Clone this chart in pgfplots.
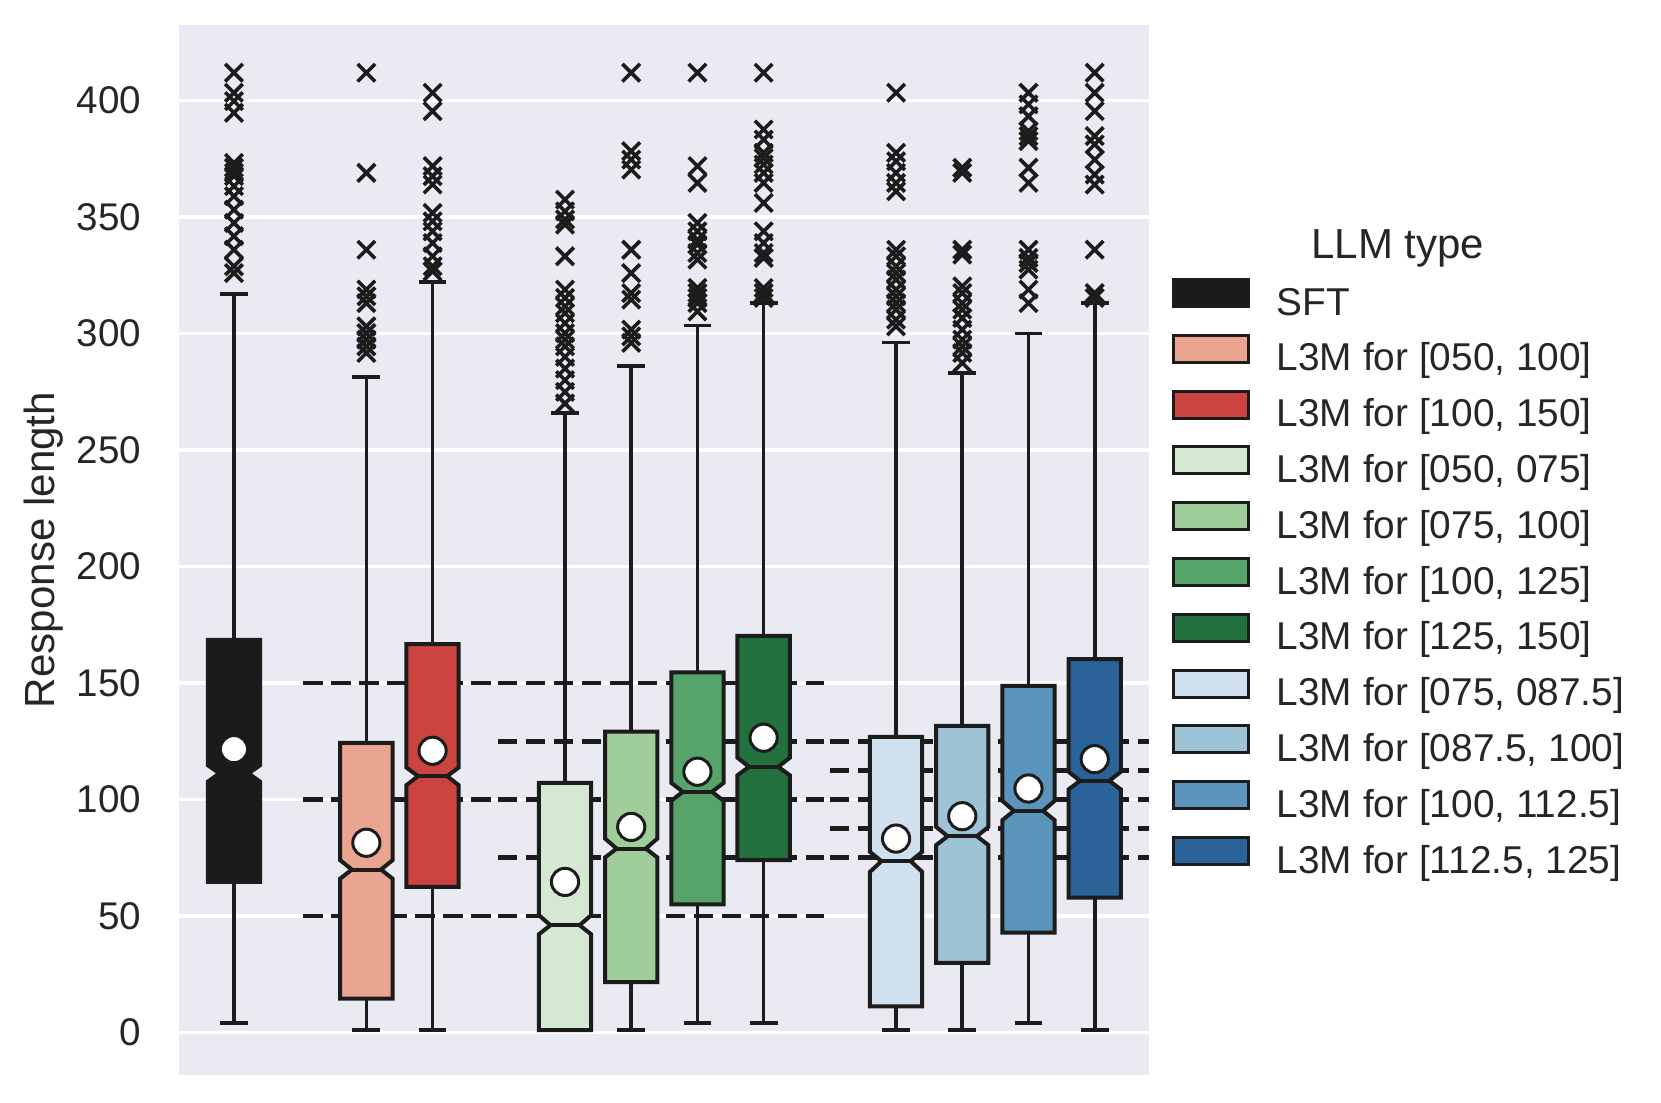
\documentclass[border=0pt]{standalone}
\usepackage{fontspec}
\setmainfont{Liberation Sans}
\usepackage{pgfplots}
\pgfplotsset{compat=1.18}
\definecolor{bg}{HTML}{EAEAF2}
\definecolor{txt}{HTML}{262626}
\definecolor{edge}{HTML}{1C1C1C}
\definecolor{cSFT}{HTML}{1A1A1A}
\definecolor{cRa}{HTML}{EAA590}
\definecolor{cRb}{HTML}{CB443F}
\definecolor{cGa}{HTML}{D5E8D1}
\definecolor{cGb}{HTML}{A0CE9A}
\definecolor{cGc}{HTML}{57A46A}
\definecolor{cGd}{HTML}{22713F}
\definecolor{cBa}{HTML}{D1E0EE}
\definecolor{cBb}{HTML}{9EC2D6}
\definecolor{cBc}{HTML}{5B95BB}
\definecolor{cBd}{HTML}{2A6399}
\begin{document}
\begin{tikzpicture}
\useasboundingbox (0,0) rectangle (415.25pt,275.75pt);
\begin{axis}[
 at={(44.75pt,7pt)}, anchor=south west,
 scale only axis, width=242.5pt, height=262.5pt,
 xmin=-0.83, xmax=13.82, ymin=-18.3, ymax=432.5,
 axis background/.style={fill=bg},
 axis line style={draw=none},
 xtick=\empty,
 ytick={0,50,100,150,200,250,300,350,400},
 major tick length=0pt,
 ymajorgrids, grid style={white, line width=0.85pt},
 /pgf/number format/assume math mode=true,
 yticklabel style={font=\fontsize{9.65}{11}\selectfont, text=txt, inner sep=0pt, xshift=-9.3pt},
 ylabel={Response length},
 every axis y label/.style={at={(axis description cs:-0.1395,0.5)}, rotate=90, anchor=center, font=\fontsize{10.53}{12}\selectfont, text=txt},
 unbounded coords=jump,
 legend style={at={(axis description cs:1.0233,0.7590)}, anchor=north west, draw=none, fill=none, inner sep=0pt, outer sep=0pt, row sep=0pt, font=\fontsize{9.7}{11}\selectfont, text=txt, nodes={inner sep=0pt, text height=8.75pt, text depth=4.7pt}, /tikz/every odd column/.append style={column sep=6.7pt}},
 legend cell align=left,
 legend image code/.code={\draw[#1] (0pt,0.1pt) rectangle (18.85pt,6.85pt);},
 box/.style={forget plot, draw=edge, line width=1pt, line join=miter},
]
% dashed reference lines
\addplot[forget plot, edge, line width=1.15pt, dash pattern=on 4.8pt off 2.2pt] coordinates {(1.05,50)(3.99,50)};
\addplot[forget plot, edge, line width=1.15pt, dash pattern=on 4.8pt off 2.2pt] coordinates {(1.05,100)(3.99,100)};
\addplot[forget plot, edge, line width=1.15pt, dash pattern=on 4.8pt off 2.2pt] coordinates {(1.05,150)(3.99,150)};
\addplot[forget plot, edge, line width=1.15pt, dash pattern=on 4.8pt off 2.2pt] coordinates {(3.99,50)(8.905,50)};
\addplot[forget plot, edge, line width=1.15pt, dash pattern=on 4.8pt off 2.2pt] coordinates {(3.99,75)(8.905,75)};
\addplot[forget plot, edge, line width=1.15pt, dash pattern=on 4.8pt off 2.2pt] coordinates {(3.99,100)(8.905,100)};
\addplot[forget plot, edge, line width=1.15pt, dash pattern=on 4.8pt off 2.2pt] coordinates {(3.99,125)(8.905,125)};
\addplot[forget plot, edge, line width=1.15pt, dash pattern=on 4.8pt off 2.2pt] coordinates {(3.99,150)(8.905,150)};
\addplot[forget plot, edge, line width=1.15pt, dash pattern=on 4.8pt off 2.2pt] coordinates {(9.0,75)(14,75)};
\addplot[forget plot, edge, line width=1.15pt, dash pattern=on 4.8pt off 2.2pt] coordinates {(9.0,87.5)(14,87.5)};
\addplot[forget plot, edge, line width=1.15pt, dash pattern=on 4.8pt off 2.2pt] coordinates {(9.0,100)(14,100)};
\addplot[forget plot, edge, line width=1.15pt, dash pattern=on 4.8pt off 2.2pt] coordinates {(9.0,112.5)(14,112.5)};
\addplot[forget plot, edge, line width=1.15pt, dash pattern=on 4.8pt off 2.2pt] coordinates {(9.0,125)(14,125)};
% whiskers and caps
\addplot[forget plot, edge, line width=0.9pt] coordinates {
(0,168.5)(0,317) (0,nan) (-0.21,317)(0.21,317) (0,nan) (0,64.6)(0,4) (0,nan) (-0.21,4)(0.21,4) (0,nan)
(2,124.3)(2,281.3) (2,nan) (1.79,281.3)(2.21,281.3) (2,nan) (2,14.5)(2,1) (2,nan) (1.79,1)(2.21,1) (2,nan)
(3,166.7)(3,322.2) (3,nan) (2.79,322.2)(3.21,322.2) (3,nan) (3,62.5)(3,1) (3,nan) (2.79,1)(3.21,1) (3,nan)
(5,107.1)(5,266) (5,nan) (4.79,266)(5.21,266) (5,nan) (4.79,1)(5.21,1) (5,nan)
(6,129.1)(6,286.2) (6,nan) (5.79,286.2)(6.21,286.2) (6,nan) (6,21.6)(6,1) (6,nan) (5.79,1)(6.21,1) (6,nan)
(7,154.6)(7,303.4) (7,nan) (6.79,303.4)(7.21,303.4) (7,nan) (7,55)(7,4) (7,nan) (6.79,4)(7.21,4) (7,nan)
(8,170.2)(8,313.1) (8,nan) (7.79,313.1)(8.21,313.1) (8,nan) (8,73.9)(8,4) (8,nan) (7.79,4)(8.21,4) (8,nan)
(10,126.9)(10,296.1) (10,nan) (9.79,296.1)(10.21,296.1) (10,nan) (10,11.2)(10,1) (10,nan) (9.79,1)(10.21,1) (10,nan)
(11,131.6)(11,283.2) (11,nan) (10.79,283.2)(11.21,283.2) (11,nan) (11,29.8)(11,1) (11,nan) (10.79,1)(11.21,1) (11,nan)
(12,148.8)(12,300) (12,nan) (11.79,300)(12.21,300) (12,nan) (12,42.8)(12,4) (12,nan) (11.79,4)(12.21,4) (12,nan)
(13,160.2)(13,313.1) (13,nan) (12.79,313.1)(13.21,313.1) (13,nan) (13,57.9)(13,1) (13,nan) (12.79,1)(13.21,1)
};
% notched boxes
\addplot[box, fill=cSFT] coordinates {(-0.395,64.6)(0.395,64.6)(0.395,107.6)(0.22,111.2)(0.395,114.7)(0.395,168.5)(-0.395,168.5)(-0.395,114.7)(-0.22,111.2)(-0.395,107.6)} -- cycle;
\addplot[box, fill=cRa] coordinates {(1.605,14.5)(2.395,14.5)(2.395,66)(2.22,69.9)(2.395,73.9)(2.395,124.3)(1.605,124.3)(1.605,73.9)(1.78,69.9)(1.605,66)} -- cycle;
\addplot[box, fill=cRb] coordinates {(2.605,62.5)(3.395,62.5)(3.395,106.1)(3.22,110)(3.395,113.7)(3.395,166.7)(2.605,166.7)(2.605,113.7)(2.78,110)(2.605,106.1)} -- cycle;
\addplot[box, fill=cGa] coordinates {(4.605,1)(5.395,1)(5.395,42.1)(5.22,46)(5.395,50.3)(5.395,107.1)(4.605,107.1)(4.605,50.3)(4.78,46)(4.605,42.1)} -- cycle;
\addplot[box, fill=cGb] coordinates {(5.605,21.6)(6.395,21.6)(6.395,75.1)(6.22,78.9)(6.395,83.2)(6.395,129.1)(5.605,129.1)(5.605,83.2)(5.78,78.9)(5.605,75.1)} -- cycle;
\addplot[box, fill=cGc] coordinates {(6.605,55)(7.395,55)(7.395,99.4)(7.22,103.3)(7.395,107.1)(7.395,154.6)(6.605,154.6)(6.605,107.1)(6.78,103.3)(6.605,99.4)} -- cycle;
\addplot[box, fill=cGd] coordinates {(7.605,73.9)(8.395,73.9)(8.395,110.4)(8.22,114)(8.395,117.9)(8.395,170.2)(7.605,170.2)(7.605,117.9)(7.78,114)(7.605,110.4)} -- cycle;
\addplot[box, fill=cBa] coordinates {(9.605,11.2)(10.395,11.2)(10.395,68.9)(10.22,73.5)(10.395,77.5)(10.395,126.9)(9.605,126.9)(9.605,77.5)(9.78,73.5)(9.605,68.9)} -- cycle;
\addplot[box, fill=cBb] coordinates {(10.605,29.8)(11.395,29.8)(11.395,80.4)(11.22,84.2)(11.395,88.2)(11.395,131.6)(10.605,131.6)(10.605,88.2)(10.78,84.2)(10.605,80.4)} -- cycle;
\addplot[box, fill=cBc] coordinates {(11.605,42.8)(12.395,42.8)(12.395,91.1)(12.22,95.1)(12.395,99.4)(12.395,148.8)(11.605,148.8)(11.605,99.4)(11.78,95.1)(11.605,91.1)} -- cycle;
\addplot[box, fill=cBd] coordinates {(12.605,57.9)(13.395,57.9)(13.395,104.3)(13.22,108)(13.395,111.9)(13.395,160.2)(12.605,160.2)(12.605,111.9)(12.78,108)(12.605,104.3)} -- cycle;
% medians
\addplot[forget plot, edge, line width=1pt] coordinates {
(-0.22,111.2)(0.22,111.2) (0,nan) (1.78,69.9)(2.22,69.9) (2,nan) (2.78,110)(3.22,110) (3,nan)
(4.78,46)(5.22,46) (5,nan) (5.78,78.9)(6.22,78.9) (6,nan) (6.78,103.3)(7.22,103.3) (7,nan) (7.78,114)(8.22,114) (8,nan)
(9.78,73.5)(10.22,73.5) (10,nan) (10.78,84.2)(11.22,84.2) (11,nan) (11.78,95.1)(12.22,95.1) (12,nan) (12.78,108)(13.22,108)
};
% means
\addplot[forget plot, only marks, mark=*, mark size=3.4pt, mark options={fill=white, draw=edge, line width=0.75pt}] coordinates {
(0,121.6)(2,81.4)(3,120.9)(5,64.6)(6,88.2)(7,111.9)(8,126.5)(10,83.2)(11,92.8)(12,104.7)(13,117.3)};
% outliers
\addplot[forget plot, only marks, mark=x, mark size=3.1pt, mark options={draw=edge, line width=0.9pt}] coordinates {
(0,412)(0,403.4)(0,399.8)(0,394.8)(0,373.3)(0,371.2)(0,369)(0,367.6)(0,363.3)(0,359)(0,353.2)(0,347.5)(0,341.8)(0,336)(0,328.9)(0,326)
(2,412)(2,369)(2,336)(2,318.9)(2,316)(2,313.1)(2,303.1)(2,300.2)(2,297.4)(2,294.5)(2,291.7)
(3,403.4)(3,395.5)(3,371.9)(3,367.6)(3,364)(3,351.8)(3,348.2)(3,343.9)(3,338.9)(3,333.2)(3,328.9)(3,326.7)
(5,357.5)(5,352.5)(5,349)(5,346.8)(5,333.2)(5,318.9)(5,315.3)(5,311.7)(5,308.8)(5,304.5)(5,300.2)(5,297.4)(5,294.5)(5,290)(5,285)(5,280)(5,275)(5,270)
(6,412)(6,378.3)(6,374.7)(6,370.4)(6,336)(6,326)(6,317.4)(6,314.6)(6,301.7)(6,298.8)(6,296)
(7,412)(7,371.9)(7,364.7)(7,347.5)(7,343.9)(7,340.3)(7,338.2)(7,334.6)(7,331.8)(7,319.6)(7,317.4)(7,315.3)(7,313.1)(7,309.5)
(8,412)(8,387.6)(8,383.3)(8,377.6)(8,375.4)(8,372.6)(8,369)(8,364.7)(8,356.1)(8,343.9)(8,338.9)(8,334.6)(8,332.5)(8,319.6)(8,317.4)(8,315.3)
(10,403.4)(10,377.6)(10,374)(10,369)(10,364.7)(10,361.1)(10,336)(10,333.2)(10,328.9)(10,326)(10,323.2)(10,318.9)(10,316)(10,313.1)(10,310.3)(10,306)(10,303.1)
(11,371.2)(11,369)(11,336)(11,333.9)(11,320.3)(11,317.4)(11,313.1)(11,310.3)(11,306.7)(11,301.7)(11,297.4)(11,294.5)(11,291.7)(11,287.4)
(12,403.4)(12,398.4)(12,393.3)(12,386.9)(12,384.8)(12,382.7)(12,371.2)(12,364.7)(12,336)(12,332.5)(12,330.3)(12,327.5)(12,318.9)(12,313.1)
(13,412)(13,403.4)(13,395.5)(13,384.8)(13,381.2)(13,374.7)(13,368.3)(13,364)(13,336)(13,317.4)(13,315.3)
};
% legend
\addlegendimage{fill=cSFT, draw=edge, line width=0.75pt}\addlegendentry{SFT}
\addlegendimage{fill=cRa, draw=edge, line width=0.75pt}\addlegendentry{L3M for [050, 100]}
\addlegendimage{fill=cRb, draw=edge, line width=0.75pt}\addlegendentry{L3M for [100, 150]}
\addlegendimage{fill=cGa, draw=edge, line width=0.75pt}\addlegendentry{L3M for [050, 075]}
\addlegendimage{fill=cGb, draw=edge, line width=0.75pt}\addlegendentry{L3M for [075, 100]}
\addlegendimage{fill=cGc, draw=edge, line width=0.75pt}\addlegendentry{L3M for [100, 125]}
\addlegendimage{fill=cGd, draw=edge, line width=0.75pt}\addlegendentry{L3M for [125, 150]}
\addlegendimage{fill=cBa, draw=edge, line width=0.75pt}\addlegendentry{L3M for [075, 087.5]}
\addlegendimage{fill=cBb, draw=edge, line width=0.75pt}\addlegendentry{L3M for [087.5, 100]}
\addlegendimage{fill=cBc, draw=edge, line width=0.75pt}\addlegendentry{L3M for [100, 112.5]}
\addlegendimage{fill=cBd, draw=edge, line width=0.75pt}\addlegendentry{L3M for [112.5, 125]}
\end{axis}
\node[anchor=base, inner sep=0pt, font=\fontsize{10.5}{12}\selectfont, text=txt] at (349.5pt,211pt) {LLM type};
\end{tikzpicture}
\end{document}
